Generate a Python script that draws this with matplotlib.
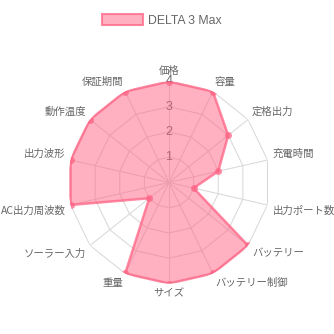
import numpy as np
import matplotlib.pyplot as plt
from matplotlib.patches import Patch

# データ
labels = ["価格", "容量", "定格出力", "充電時間", "出力ポート数", "バッテリー",
          "バッテリー制御", "サイズ", "重量", "ソーラー入力", "AC出力周波数",
          "出力波形", "動作温度", "保証期間"]
values = [4, 4, 3, 2, 1, 4, 4, 4, 4, 1, 4, 4, 4, 4]
ticks = [1, 2, 3, 4]
series_name = "DELTA 3 Max"

line_color = (1.0, 99 / 255, 132 / 255, 0.75)
fill_color = (1.0, 99 / 255, 132 / 255, 0.5)
grid_color = "#d9d9d9"
text_color = "#666666"
cjk = ["Noto Sans CJK JP", "DejaVu Sans"]

fig = plt.figure(figsize=(3.34, 3.34), dpi=100)
r_px = 101 / 334
cx, cy = 169 / 334, (334 - 182.5) / 334
ax = fig.add_axes([cx - r_px, cy - r_px, 2 * r_px, 2 * r_px], projection="polar")
ax.set_theta_zero_location("N")
ax.set_theta_direction(-1)
ax.set_ylim(0, 4)
ax.grid(False)
ax.spines["polar"].set_visible(False)
ax.set_xticks([])
ax.set_yticks([])
ax.patch.set_alpha(0)

n = len(labels)
angles = np.linspace(0, 2 * np.pi, n, endpoint=False)
closed = np.append(angles, angles[0])

# グリッド（多角形）
for t in ticks:
    ax.plot(closed, [t] * (n + 1), color=grid_color, lw=0.75, zorder=1)
for a in angles:
    ax.plot([a, a], [0, ticks[-1]], color=grid_color, lw=0.75, zorder=1)

# 目盛りラベル
for t in ticks:
    ax.text(0, t, str(t), ha="center", va="center", fontsize=9,
            family="Liberation Sans", color=text_color, zorder=2)

# データ
vals = np.append(values, values[0])
ax.fill(closed, vals, color=fill_color, zorder=3, lw=0)
ax.plot(closed, vals, color=line_color, lw=1.8, zorder=4)
ax.plot(angles, values, "o", ms=5, color=line_color, mec="none", zorder=5)

# 項目ラベル
for a, lab in zip(angles, labels):
    s = np.sin(a)
    if abs(s) < 1e-6:
        ha = "center"
    elif s > 0:
        ha = "left"
    else:
        ha = "right"
    if abs(np.cos(a)) < 1e-6:
        va = "center"
    elif np.cos(a) > 0:
        va = "bottom"
    else:
        va = "top"
    ax.text(a, 4.2, lab, ha=ha, va=va, fontsize=7.5, family=cjk,
            color=text_color, clip_on=False)

# 凡例
handle = Patch(facecolor=fill_color, edgecolor=line_color, lw=1.5)
fig.legend([handle], [series_name], loc="upper center",
           bbox_to_anchor=(162 / 334, 1 - 3 / 334), frameon=False,
           handlelength=3.3, handleheight=1.0, handletextpad=0.45,
           prop={"family": "Liberation Sans", "size": 8.8},
           labelcolor=text_color)

fig.savefig("out.png", dpi=100)
